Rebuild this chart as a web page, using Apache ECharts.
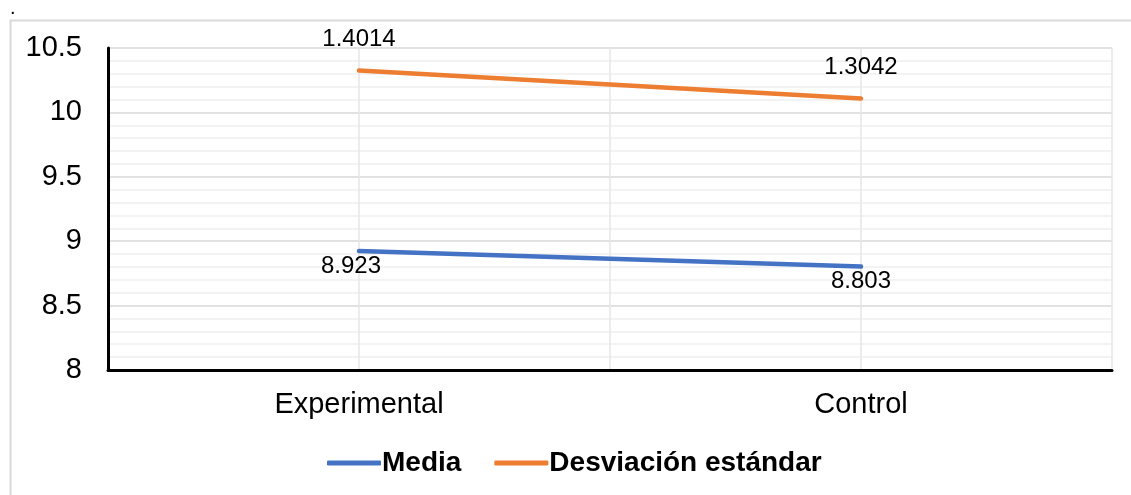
<!DOCTYPE html>
<html>
<head>
<meta charset="utf-8">
<script src="https://cdn.jsdelivr.net/npm/echarts@6/dist/echarts.min.js"></script>
<style>
html,body{margin:0;padding:0;background:#fff;}
#chart{width:1131px;height:495px;}
</style>
</head>
<body>
<div id="chart"></div>
<script>
const categories = ['Experimental', 'Control'];
const mediaValues = [8.923, 8.803];
const desviacionValues = [1.4014, 1.3042];
const seriesNames = ['Media', 'Desviación estándar'];

const FONT = '"Liberation Sans", Arial, sans-serif';
const chart = echarts.init(document.getElementById('chart'));
chart.setOption({
  backgroundColor: '#ffffff',
  animation: false,
  textStyle: { fontFamily: FONT },
  grid: { left: 108, right: 19, top: 48, bottom: 125 },
  graphic: [
    { type: 'rect', left: 8, top: 18, shape: { width: 1140, height: 500 },
      style: { fill: 'none', stroke: '#d9d9d9', lineWidth: 2 }, z: -10 },
    { type: 'text', left: 10, top: -2, style: { text: '.', font: '20px ' + FONT, fill: '#000' } }
  ],
  legend: {
    data: seriesNames,
    left: 322, top: 444,
    icon: 'roundRect',
    itemWidth: 54, itemHeight: 5, itemGap: 33,
    textStyle: { fontSize: 28, fontWeight: 'bold', color: '#000', fontFamily: FONT, padding: [0, 0, 0, -4] }
  },
  xAxis: [
    {
      type: 'category', data: categories, boundaryGap: true,
      axisLine: { show: true, lineStyle: { color: '#000', width: 3 } },
      axisTick: { show: false },
      axisLabel: { fontSize: 29, color: '#000', margin: 20, fontFamily: FONT },
      splitLine: { show: false }
    },
    {
      type: 'value', min: 0, max: 4, interval: 1, position: 'bottom',
      axisLine: { show: false }, axisTick: { show: false }, axisLabel: { show: false },
      splitLine: { show: true, lineStyle: { color: '#e6e6e6', width: 1.5 } }
    }
  ],
  yAxis: {
    type: 'value', min: 8, max: 10.5, interval: 0.5,
    axisLine: { show: true, lineStyle: { color: '#000', width: 3 } },
    axisTick: { show: false },
    axisLabel: { fontSize: 29, color: '#000', margin: 26, fontFamily: FONT },
    splitLine: { show: true, lineStyle: { color: '#d9d9d9', width: 1.5 } },
    minorTick: { show: false, splitNumber: 5 },
    minorSplitLine: { show: true, lineStyle: { color: '#efefef', width: 1.5 } }
  },
  series: [
    {
      name: seriesNames[0], type: 'line', stack: 'total',
      data: mediaValues.map((v, i) => i === 0 ? { value: v, label: { offset: [-8, 0] } } : v),
      xAxisIndex: 0,
      symbol: 'circle', symbolSize: 0.01, showSymbol: true,
      lineStyle: { color: '#4472C4', width: 4.5, cap: 'round' },
      itemStyle: { color: '#4472C4' },
      label: { show: true, position: 'bottom', distance: 3, fontSize: 24, color: '#000', fontFamily: FONT },
      z: 5
    },
    {
      name: seriesNames[1], type: 'line', stack: 'total', data: desviacionValues,
      xAxisIndex: 0,
      symbol: 'circle', symbolSize: 0.01, showSymbol: true,
      lineStyle: { color: '#ED7D31', width: 4.5, cap: 'round' },
      itemStyle: { color: '#ED7D31' },
      label: { show: true, position: 'top', distance: 19, fontSize: 24, color: '#000', fontFamily: FONT },
      z: 5
    }
  ]
});
</script>
</body>
</html>
